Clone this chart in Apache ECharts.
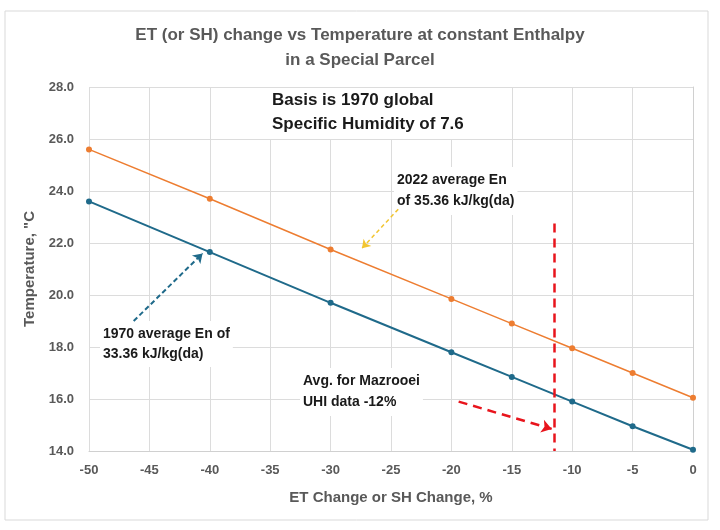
<!DOCTYPE html>
<html>
<head>
<meta charset="utf-8">
<script src="https://cdn.jsdelivr.net/npm/echarts@6/dist/echarts.min.js"></script>
<style>
  html, body { margin: 0; padding: 0; background: #fff; }
  #chart { width: 720px; height: 530px; }
</style>
</head>
<body>
<div id="chart"></div>
<script>
// ET / SH change, %
const etChange = [-50, -40, -30, -20, -15, -10, -5, 0];
// temperature at constant enthalpy
const temp2022 = [25.6, 23.7, 21.75, 19.85, 18.9, 17.95, 17.0, 16.05];
const temp1970 = [23.6, 21.65, 19.7, 17.8, 16.85, 15.9, 14.95, 14.05];

// annotation arrows, in data coordinates [from, to]
const uhiVertical = [[-11.5, 22.75], [-11.5, 14.0]];
const uhiArrow = [[-19.4, 15.9], [-11.7, 14.85]];
const arrow2022 = [[-24.4, 23.3], [-27.4, 21.8]];
const arrow1970 = [[-46.3, 19.0], [-40.6, 21.6]];

const grey = '#595959';
const labelFont = '"Liberation Sans", Arial, sans-serif';

const chart = echarts.init(document.getElementById('chart'));

const toPairs = (xs, ys) => xs.map((x, i) => [x, ys[i]]);

// one dashed annotation segment for markLine
const segment = (pts, color, dash, width, arrow, size) => [
  {
    coord: pts[0],
    symbol: 'none',
    lineStyle: { color: color, type: dash, width: width }
  },
  {
    coord: pts[1],
    symbol: arrow ? 'arrow' : 'none',
    symbolSize: size
  }
];

// text box with white fill, like the excel text boxes
const noteText = (x, y, lines, size, lh, padTop) => ({
  type: 'text',
  left: x - 3,
  top: y - padTop,
  z: 1,
  style: {
    text: lines.join('\n'),
    font: 'bold ' + size + 'px ' + labelFont,
    fill: '#1a1a1a',
    lineHeight: lh,
    backgroundColor: '#fff',
    padding: [padTop, 3, 3, 3]
  }
});

const option = {
  animation: false,
  backgroundColor: '#fff',
  title: {
    text: 'ET (or SH) change vs Temperature at constant Enthalpy\nin a Special Parcel',
    left: 'center',
    top: 18,
    textStyle: {
      fontFamily: labelFont,
      fontWeight: 'bold',
      fontSize: 17,
      lineHeight: 25,
      color: grey
    }
  },
  grid: { left: 89, right: 27, top: 87, bottom: 79 },
  xAxis: {
    type: 'value',
    min: -50,
    max: 0,
    interval: 5,
    name: 'ET Change or SH Change, %',
    nameLocation: 'middle',
    nameGap: 39,
    nameTextStyle: { fontFamily: labelFont, fontWeight: 'bold', fontSize: 15, color: grey },
    axisLine: { lineStyle: { color: '#d0d0d0' } },
    axisTick: { show: false },
    axisLabel: { fontFamily: labelFont, fontWeight: 'bold', fontSize: 13, color: grey, margin: 13 },
    splitLine: { show: true, lineStyle: { color: '#dcdcdc' } }
  },
  yAxis: {
    type: 'value',
    min: 14,
    max: 28,
    interval: 2,
    name: 'Temperature, "C',
    nameLocation: 'middle',
    nameGap: 51,
    nameTextStyle: { fontFamily: labelFont, fontWeight: 'bold', fontSize: 15, color: grey },
    axisLine: { show: true, lineStyle: { color: '#d0d0d0' } },
    axisTick: { show: false },
    axisLabel: {
      fontFamily: labelFont, fontWeight: 'bold', fontSize: 13, color: grey, margin: 15,
      formatter: (v) => v.toFixed(1)
    },
    splitLine: { show: true, lineStyle: { color: '#dcdcdc' } }
  },
  series: [
    {
      name: '2022',
      type: 'line',
      data: toPairs(etChange, temp2022),
      symbol: 'circle',
      symbolSize: 6,
      itemStyle: { color: '#ED7D31' },
      lineStyle: { color: '#ED7D31', width: 1.5 },
      markLine: {
        silent: true,
        animation: false,
        label: { show: false },
        data: [segment(arrow2022, '#F2C531', [4, 3], 1.5, true, 8)]
      }
    },
    {
      name: '1970',
      type: 'line',
      data: toPairs(etChange, temp1970),
      symbol: 'circle',
      symbolSize: 6,
      itemStyle: { color: '#1F6A8A' },
      lineStyle: { color: '#1F6A8A', width: 2 },
      markLine: {
        silent: true,
        animation: false,
        label: { show: false },
        data: [
          segment(arrow1970, '#1F6A8A', [5, 3], 2, true, 9),
          segment(uhiVertical, '#E8141C', [9, 6], 2.5, false, 0),
          segment(uhiArrow, '#E8141C', [9, 6], 2.5, true, 10)
        ]
      }
    }
  ],
  graphic: [
    {
      type: 'rect',
      shape: { x: 5, y: 11, width: 703, height: 509 },
      style: { fill: 'none', stroke: '#d9d9d9', lineWidth: 1 },
      z: -1
    },
    noteText(272, 88, ['Basis is 1970 global', 'Specific Humidity of 7.6'], 17, 24, 0),
    noteText(397, 170, ['2022 average En', 'of 35.36 kJ/kg(da)'], 14, 21, 3),
    noteText(103, 324, ['1970 average En of', '33.36 kJ/kg(da)'], 14, 20, 3),
    noteText(303, 371, ['Avg. for Mazrooei', 'UHI data -12%'], 14, 21, 3)
  ]
};

chart.setOption(option);

window.addEventListener('resize', function () {
  chart.resize();
});
</script>
</body>
</html>
